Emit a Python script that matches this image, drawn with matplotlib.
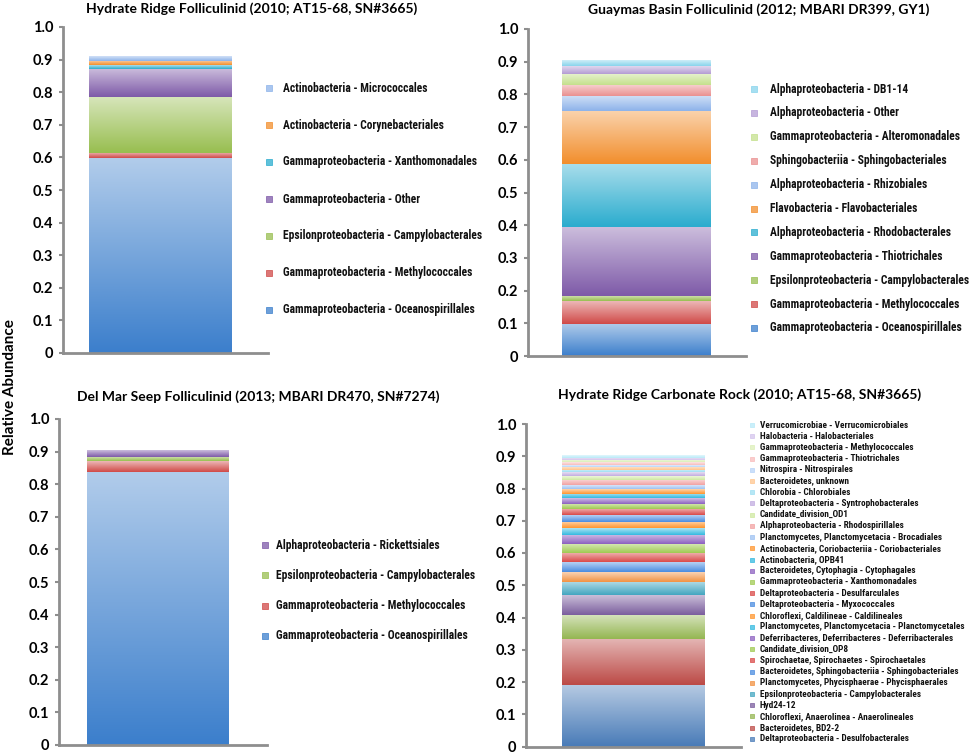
import numpy as np
import matplotlib
matplotlib.use("Agg")
import matplotlib.pyplot as plt
from matplotlib.colors import to_rgb
from matplotlib.lines import Line2D
from matplotlib import font_manager as fm

# ---------------- data ----------------
yticks = [0.0, 0.1, 0.2, 0.3, 0.4, 0.5, 0.6, 0.7, 0.8, 0.9, 1.0]
ytick_labels = ['0', '0.1', '0.2', '0.3', '0.4', '0.5', '0.6', '0.7', '0.8', '0.9', '1.0']

hr_title = 'Hydrate Ridge Folliculinid (2010; AT15-68, SN#3665)'
hr_labels = ['Gammaproteobacteria - Oceanospirillales',
             'Gammaproteobacteria - Methylococcales',
             'Epsilonproteobacteria - Campylobacterales',
             'Gammaproteobacteria - Other',
             'Gammaproteobacteria - Xanthomonadales',
             'Actinobacteria - Corynebacteriales',
             'Actinobacteria - Micrococcales']
hr_values = [0.598, 0.016, 0.171, 0.086, 0.011, 0.013, 0.015]

gb_title = 'Guaymas Basin Folliculinid (2012; MBARI DR399, GY1)'
gb_labels = ['Gammaproteobacteria - Oceanospirillales',
             'Gammaproteobacteria - Methylococcales',
             'Epsilonproteobacteria - Campylobacterales',
             'Gammaproteobacteria - Thiotrichales',
             'Alphaproteobacteria - Rhodobacterales',
             'Flavobacteria - Flavobacteriales',
             'Alphaproteobacteria - Rhizobiales',
             'Sphingobacteriia - Sphingobacteriales',
             'Gammaproteobacteria - Alteromonadales',
             'Alphaproteobacteria - Other',
             'Alphaproteobacteria - DB1-14']
gb_values = [0.098, 0.070, 0.016, 0.209, 0.194, 0.161, 0.046, 0.035, 0.034, 0.023, 0.018]

dm_title = 'Del Mar Seep Folliculinid (2013; MBARI DR470, SN#7274)'
dm_labels = ['Gammaproteobacteria - Oceanospirillales',
             'Gammaproteobacteria - Methylococcales',
             'Epsilonproteobacteria - Campylobacterales',
             'Alphaproteobacteria - Rickettsiales']
dm_values = [0.838, 0.032, 0.014, 0.020]

hc_title = 'Hydrate Ridge Carbonate Rock (2010; AT15-68, SN#3665)'
hc_labels = ['Deltaproteobacteria - Desulfobacterales',
             'Bacteroidetes, BD2-2',
             'Chloroflexi, Anaerolinea - Anaerolineales',
             'Hyd24-12',
             'Epsilonproteobacteria - Campylobacterales',
             'Planctomycetes, Phycisphaerae - Phycisphaerales',
             'Bacteroidetes, Sphingobacteriia - Sphingobacteriales',
             'Spirochaetae, Spirochaetes - Spirochaetales',
             'Candidate_division_OP8',
             'Deferribacteres, Deferribacteres - Deferribacterales',
             'Planctomycetes, Planctomycetacia - Planctomycetales',
             'Chloroflexi, Caldilineae - Caldilineales',
             'Deltaproteobacteria - Myxococcales',
             'Deltaproteobacteria - Desulfarculales',
             'Gammaproteobacteria - Xanthomonadales',
             'Bacteroidetes, Cytophagia - Cytophagales',
             'Actinobacteria, OPB41',
             'Actinobacteria, Coriobacteriia - Coriobacteriales',
             'Planctomycetes, Planctomycetacia - Brocadiales',
             'Alphaproteobacteria - Rhodospirillales',
             'Candidate_division_OD1',
             'Deltaproteobacteria - Syntrophobacterales',
             'Chlorobia - Chlorobiales',
             'Bacteroidetes, unknown',
             'Nitrospira - Nitrospirales',
             'Gammaproteobacteria - Thiotrichales',
             'Gammaproteobacteria - Methylococcales',
             'Halobacteria - Halobacteriales',
             'Verrucomicrobiae - Verrucomicrobiales']
hc_values = [0.190, 0.143, 0.074, 0.062, 0.042, 0.030, 0.030, 0.028, 0.028, 0.028,
             0.021, 0.021, 0.020, 0.019, 0.017, 0.017, 0.014, 0.015, 0.012, 0.016,
             0.011, 0.012, 0.008, 0.010, 0.006, 0.007, 0.007, 0.008, 0.007]

ylabel = 'Relative Abundance'

# ---------------- styling ----------------
bright6 = ['#3C7FCC', '#D04A48', '#98BE50', '#7E5AA8', '#2AACCE', '#F28E2C']
light6 = ['#8DB3EA', '#EA9090', '#C4E08C', '#B49CD4', '#88D4EC', '#FFB880']
office6 = ['#4A7CB8', '#BC4A46', '#94B652', '#7B5E9E', '#43A6C0', '#F29242']
vivid6 = ['#4A8CE0', '#DA4A48', '#A0CA52', '#8C60C0', '#34BAE0', '#FF952E']
pale6 = ['#9EC2F2', '#F2A2A2', '#CFE8A0', '#C2ACE0', '#9EDFF2', '#FFC58E']
pale6b = ['#B8D4F8', '#F8BCBC', '#DCEFB8', '#D4C4EC', '#B8EAF8', '#FFD4A8']

W, H = 970, 754
fig = plt.figure(figsize=(W / 100, H / 100), dpi=100)
renderer = fig.canvas.get_renderer()

TITLE_FONT = ['Lato', 'DejaVu Sans']
TICK_FONT = ['Lato', 'DejaVu Sans']
SPINE = '#8E8E8E'


def pick_legend_font():
    prefs = ['Roboto Condensed', 'Liberation Sans Narrow', 'Open Sans Condensed',
             'DejaVu Sans Condensed', 'Noto Sans Condensed', 'DejaVu Sans']
    cands = []
    for f in fm.fontManager.ttflist:
        narrow = ('Condensed' in f.name or 'Narrow' in f.name or
                  str(f.stretch) in ('condensed', 'semi-condensed', 'extra-condensed'))
        boldish = str(f.weight) in ('bold', '700', 'semibold', '600', 'demibold')
        if narrow and boldish and 'Oblique' not in f.fname and 'Italic' not in f.fname:
            cands.append(f)
    for p in prefs:
        for f in cands:
            if f.name == p:
                return fm.FontProperties(fname=f.fname)
    if cands:
        return fm.FontProperties(fname=cands[0].fname)
    return fm.FontProperties(family=['Lato', 'DejaVu Sans'], weight='bold')


LEG_FP = pick_legend_font()


def fit_size(text, target_px, fp):
    t = fig.text(0, 0, text, fontproperties=fp, fontsize=10)
    w = t.get_window_extent(renderer).width
    t.remove()
    return 10 * target_px / w


def fx(px):
    return px / W


def fy(py):
    return 1 - py / H


def mix(c, k):
    r = np.array(to_rgb(c))
    return r + (1 - r) * k


def make_axes(left, right, top, bottom):
    ax = fig.add_axes([fx(left), fy(bottom), fx(right - left), (bottom - top) / H])
    ax.set_facecolor('none')
    for s in ['top', 'right']:
        ax.spines[s].set_visible(False)
    for s in ['left', 'bottom']:
        ax.spines[s].set_color(SPINE)
        ax.spines[s].set_linewidth(2.0)
    ax.set_yticks(yticks)
    ax.set_yticklabels(ytick_labels, fontfamily=TICK_FONT, fontweight='bold', fontsize=10.5)
    ax.tick_params(axis='y', length=3, width=1.5, color=SPINE, pad=4)
    ax.set_xticks([])
    return ax


def stacked(ax, values, colors, center, width):
    bottom = 0.0
    for v, c in zip(values, colors):
        rect = ax.bar(center, v, bottom=bottom, width=width, color=c, linewidth=0, zorder=2)[0]
        x0, y0 = rect.get_x(), rect.get_y()
        t = np.linspace(0, 1, 64)[:, None]
        base = np.array(to_rgb(c))
        top = mix(c, 0.6)
        grad = base[None, None, :] * (1 - t[:, :, None]) + top[None, None, :] * t[:, :, None]
        ax.imshow(grad, extent=(x0, x0 + rect.get_width(), y0, y0 + rect.get_height()),
                  origin='lower', aspect='auto', interpolation='bilinear', zorder=2.5)
        bottom += v
    ax.set_xlim(0, 1)
    ax.set_ylim(0, 1)
    ax.set_aspect('auto')


def legend_items(labels, colors, mx, tx, ytop, pitch, fs, msize):
    # top entry is the last series
    for i, (lab, c) in enumerate(zip(labels[::-1], colors[::-1])):
        y = ytop + i * pitch
        fig.add_artist(Line2D([fx(mx)], [fy(y)], marker='s', markersize=msize,
                              markerfacecolor=mix(c, 0.25), markeredgecolor=c,
                              markeredgewidth=0.5, linestyle='none'))
        fig.text(fx(tx), fy(y), lab, fontproperties=LEG_FP, fontsize=fs,
                 va='center', ha='left', color='#111111')


ref_label = 'Epsilonproteobacteria - Campylobacterales'
long_label = 'Planctomycetes, Planctomycetacia - Planctomycetales'
leg_fs = fit_size(ref_label, 200, LEG_FP)
leg_fs_small = fit_size(long_label, 204, LEG_FP)
title_fp = fm.FontProperties(family=TITLE_FONT, weight='bold')
title_fs = fit_size(hr_title, 330, title_fp)

# ---- top-left ----
ax1 = make_axes(63, 268, 27, 353)
hr_colors = bright6 + [light6[0]]
stacked(ax1, hr_values, hr_colors, 0.473, 0.693)
legend_items(hr_labels, hr_colors, 269, 283, 88, 37, leg_fs, 4)
fig.text(fx(252), fy(9), hr_title, ha='center', va='center', fontsize=title_fs,
         fontproperties=title_fp)

# ---- top-right ----
ax2 = make_axes(528, 746, 29, 356)
gb_colors = bright6 + light6[:5]
stacked(ax2, gb_values, gb_colors, 0.495, 0.68)
legend_items(gb_labels, gb_colors, 754, 770, 89, 23.9, leg_fs, 4)
fig.text(fx(759), fy(10), gb_title, ha='center', va='center', fontsize=title_fs,
         fontproperties=title_fp)

# ---- bottom-left ----
ax3 = make_axes(59, 267, 419, 745)
dm_colors = bright6[:4]
stacked(ax3, dm_values, dm_colors, 0.473, 0.68)
legend_items(dm_labels, dm_colors, 265, 276, 545, 30.3, leg_fs, 4)
fig.text(fx(258), fy(397), dm_title, ha='center', va='center', fontsize=title_fs,
         fontproperties=title_fp)

# ---- bottom-right ----
ax4 = make_axes(526, 741, 424, 746.5)
hc_colors = office6 + vivid6 + vivid6 + pale6 + pale6b[:5]
stacked(ax4, hc_values, hc_colors, 0.5, 0.665)
legend_items(hc_labels, hc_colors, 752, 760, 425, 11.21, leg_fs_small, 3.5)
fig.text(fx(740), fy(395), hc_title, ha='center', va='center', fontsize=title_fs,
         fontproperties=title_fp)

# ---- shared y label ----
fig.text(fx(10), fy(387), ylabel, rotation=90, ha='center', va='center',
         fontsize=11, fontweight='bold', fontfamily=TITLE_FONT)

fig.savefig('out.png', dpi=100)
